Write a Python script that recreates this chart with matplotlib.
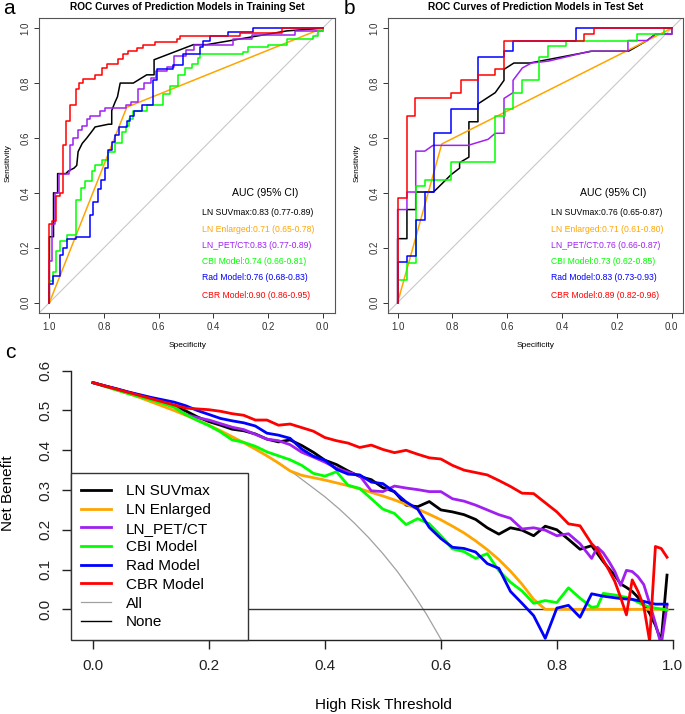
import numpy as np
import matplotlib
matplotlib.use('Agg')
import matplotlib.pyplot as plt
from matplotlib.lines import Line2D

plt.rcParams['font.family'] = ['Liberation Sans', 'DejaVu Sans']

# ---- models ----
models = ['LN SUVmax', 'LN Enlarged', 'LN_PET/CT', 'CBI Model', 'Rad Model', 'CBR Model']
colors = ['black', '#FFA500', '#A020F0', '#00FF00', '#0000FF', '#FF0000']
auc_train = ['0.83 (0.77-0.89)', '0.71 (0.65-0.78)', '0.83 (0.77-0.89)',
             '0.74 (0.66-0.81)', '0.76 (0.68-0.83)', '0.90 (0.86-0.95)']
auc_test = ['0.76 (0.65-0.87)', '0.71 (0.61-0.80)', '0.76 (0.66-0.87)',
            '0.73 (0.62-0.85)', '0.83 (0.73-0.93)', '0.89 (0.82-0.96)']

# ---- ROC, training set (specificity, sensitivity) ----
# step curves: specificity where sensitivity jumps, and the new sensitivity
tr_red_x = [1.0, 0.989, 0.976, 0.961, 0.951, 0.939, 0.924, 0.902, 0.890, 0.878, 0.833, 0.809,
            0.790, 0.748, 0.732, 0.711, 0.680, 0.656, 0.613, 0.534, 0.522, 0.302, 0.150, 0.0]
tr_red_y = [0.287, 0.299, 0.388, 0.400, 0.576, 0.661, 0.719, 0.780, 0.800, 0.814, 0.831, 0.855,
            0.868, 0.886, 0.906, 0.916, 0.928, 0.938, 0.950, 0.962, 0.971, 0.983, 1.0, 1.0]
tr_blue_x = [1.0, 0.988, 0.963, 0.951, 0.937, 0.902, 0.851, 0.839, 0.824, 0.812, 0.796, 0.784,
             0.772, 0.760, 0.744, 0.717, 0.705, 0.690, 0.660, 0.620, 0.607, 0.546, 0.510, 0.449,
             0.437, 0.412, 0.345, 0.254, 0.0]
tr_blue_y = [0.066, 0.097, 0.173, 0.200, 0.233, 0.240, 0.320, 0.365, 0.415, 0.445, 0.490, 0.555,
             0.585, 0.610, 0.640, 0.660, 0.680, 0.700, 0.720, 0.810, 0.850, 0.865, 0.906, 0.930,
             0.955, 0.970, 0.985, 1.0, 1.0]
tr_green_x = [1.0, 0.988, 0.976, 0.961, 0.937, 0.902, 0.885, 0.870, 0.845, 0.833, 0.809, 0.784,
              0.760, 0.735, 0.720, 0.707, 0.693, 0.644, 0.583, 0.559, 0.528, 0.504, 0.479, 0.455,
              0.449, 0.290, 0.272, 0.199, 0.132, 0.034, 0.016, 0.0]
tr_green_y = [0.078, 0.110, 0.187, 0.223, 0.248, 0.375, 0.418, 0.443, 0.480, 0.500, 0.520, 0.550,
              0.580, 0.620, 0.645, 0.670, 0.700, 0.720, 0.760, 0.790, 0.830, 0.855, 0.870, 0.890,
              0.905, 0.915, 0.930, 0.940, 0.960, 0.970, 0.990, 1.0]
tr_purple_x = [1.0, 0.99, 0.978, 0.965, 0.93, 0.925, 0.912, 0.897, 0.88, 0.862, 0.85, 0.815, 0.797,
               0.72, 0.70, 0.675, 0.655, 0.63, 0.61, 0.57, 0.545, 0.50, 0.47, 0.33, 0.26, 0.10, 0.0]
tr_purple_y = [0.153, 0.287, 0.40, 0.47, 0.48, 0.575, 0.60, 0.63, 0.645, 0.67, 0.68, 0.70, 0.71,
               0.72, 0.73, 0.78, 0.80, 0.82, 0.845, 0.86, 0.90, 0.92, 0.94, 0.96, 0.975, 0.99, 1.0]
# polylines
tr_black_x = [1.0, 1.0, 0.985, 0.985, 0.97, 0.97, 0.94, 0.93, 0.91, 0.90, 0.895, 0.88, 0.863, 0.84,
              0.833, 0.784, 0.772, 0.772, 0.76, 0.751, 0.741, 0.693, 0.644, 0.617, 0.617, 0.473,
              0.424, 0.132, 0.0]
tr_black_y = [0.0, 0.24, 0.24, 0.40, 0.40, 0.47, 0.47, 0.48, 0.49, 0.50, 0.55, 0.58, 0.60, 0.63,
              0.64, 0.65, 0.65, 0.70, 0.73, 0.75, 0.80, 0.80, 0.83, 0.83, 0.885, 0.94, 0.94, 0.99, 1.0]
tr_orange_x = [1.0, 0.717, 0.0]
tr_orange_y = [0.0, 0.712, 1.0]

# ---- ROC, test set ----
te_red_x = [1.0, 0.966, 0.936, 0.804, 0.770, 0.707, 0.644, 0.612, 0.319, 0.285, 0.0]
te_red_y = [0.382, 0.679, 0.745, 0.765, 0.810, 0.830, 0.850, 0.955, 0.980, 1.0, 1.0]
te_blue_x = [1.0, 0.966, 0.934, 0.901, 0.869, 0.804, 0.707, 0.612, 0.579, 0.350, 0.0]
te_blue_y = [0.147, 0.170, 0.300, 0.403, 0.618, 0.704, 0.894, 0.916, 0.955, 1.0, 1.0]
te_green_x = [1.0, 0.966, 0.934, 0.901, 0.804, 0.644, 0.609, 0.579, 0.545, 0.483, 0.450, 0.386,
              0.126, 0.030, 0.0]
te_green_y = [0.084, 0.145, 0.424, 0.447, 0.512, 0.679, 0.704, 0.765, 0.810, 0.894, 0.935, 0.955,
              0.978, 1.0, 1.0]
te_purple_x = [1.0, 1.0, 0.966, 0.966, 0.934, 0.934, 0.901, 0.871, 0.743, 0.670, 0.644, 0.612, 0.612,
               0.579, 0.579, 0.545, 0.512, 0.450, 0.298, 0.160, 0.160, 0.09, 0.06, 0.0, 0.0]
te_purple_y = [0.0, 0.339, 0.339, 0.403, 0.403, 0.552, 0.552, 0.573, 0.573, 0.595, 0.617, 0.617, 0.744,
               0.765, 0.81, 0.855, 0.873, 0.88, 0.916, 0.916, 0.955, 0.955, 0.978, 0.978, 1.0]
te_black_x = [1.0, 1.0, 0.966, 0.966, 0.934, 0.934, 0.869, 0.804, 0.774, 0.774, 0.740, 0.740, 0.707,
              0.707, 0.644, 0.612, 0.612, 0.576, 0.518, 0.292, 0.158, 0.09, 0.06, 0.0, 0.0]
te_black_y = [0.0, 0.233, 0.233, 0.339, 0.339, 0.403, 0.403, 0.467, 0.49, 0.51, 0.53, 0.659, 0.659,
              0.724, 0.765, 0.81, 0.85, 0.873, 0.873, 0.916, 0.916, 0.955, 0.978, 0.978, 1.0]
te_orange_x = [1.0, 0.839, 0.0]
te_orange_y = [0.0, 0.578, 1.0]

# ---- decision curves ----
thresholds = np.round(np.r_[np.arange(0, 0.87, 0.02), np.arange(0.87, 0.995, 0.01)], 2)
nb_black = [0.570, 0.562, 0.554, 0.546, 0.538, 0.529, 0.520, 0.510, 0.499, 0.484,
            0.472, 0.463, 0.453, 0.449, 0.441, 0.428, 0.421, 0.426, 0.412, 0.395,
            0.375, 0.364, 0.348, 0.334, 0.326, 0.306, 0.296, 0.262, 0.258, 0.271,
            0.250, 0.245, 0.238, 0.226, 0.205, 0.189, 0.205, 0.199, 0.185, 0.209,
            0.200, 0.176, 0.151, 0.160, 0.140, 0.120, 0.102, 0.085, 0.064, 0.055,
            0.045, 0.030, 0.012, -0.010, -0.040, -0.080, 0.086]
nb_orange = [0.570, 0.561, 0.552, 0.543, 0.533, 0.522, 0.511, 0.500, 0.488, 0.476,
             0.463, 0.449, 0.434, 0.419, 0.403, 0.386, 0.368, 0.348, 0.337, 0.331,
             0.325, 0.318, 0.311, 0.303, 0.294, 0.285, 0.275, 0.264, 0.252, 0.239,
             0.225, 0.209, 0.192, 0.172, 0.150, 0.125, 0.096, 0.063, 0.025, 0.0,
             0.0, 0.0, 0.0, 0.0, 0.0, 0.0, 0.0, 0.0, 0.0, 0.0,
             0.0, 0.0, 0.0, 0.0, 0.0, 0.0, 0.0]
nb_purple = [0.570, 0.562, 0.554, 0.546, 0.538, 0.529, 0.520, 0.510, 0.490, 0.482,
             0.476, 0.467, 0.458, 0.452, 0.440, 0.428, 0.424, 0.414, 0.395, 0.383,
             0.370, 0.355, 0.345, 0.336, 0.298, 0.296, 0.310, 0.305, 0.301, 0.296,
             0.296, 0.278, 0.272, 0.262, 0.250, 0.238, 0.229, 0.202, 0.205, 0.199,
             0.185, 0.190, 0.165, 0.128, 0.156, 0.142, 0.120, 0.095, 0.060, 0.098,
             0.095, 0.082, 0.062, 0.015, -0.035, -0.090, 0.010]
nb_green = [0.570, 0.561, 0.552, 0.543, 0.535, 0.527, 0.518, 0.508, 0.490, 0.475,
            0.462, 0.446, 0.426, 0.420, 0.410, 0.396, 0.386, 0.376, 0.362, 0.342,
            0.335, 0.346, 0.312, 0.304, 0.278, 0.252, 0.241, 0.213, 0.228, 0.215,
            0.185, 0.152, 0.145, 0.128, 0.140, 0.097, 0.068, 0.046, 0.015, 0.022,
            0.017, 0.054, 0.028, 0.005, 0.007, 0.040, 0.038, 0.036, 0.033, 0.030,
            0.025, 0.018, 0.010, 0.006, 0.003, 0.001, -0.002]
nb_blue = [0.570, 0.562, 0.555, 0.547, 0.540, 0.533, 0.527, 0.521, 0.512, 0.500,
           0.490, 0.480, 0.474, 0.469, 0.461, 0.443, 0.438, 0.430, 0.403, 0.385,
           0.375, 0.352, 0.340, 0.338, 0.320, 0.316, 0.295, 0.270, 0.252, 0.206,
           0.178, 0.156, 0.153, 0.144, 0.115, 0.103, 0.045, 0.015, -0.016, -0.073,
           0.003, 0.010, -0.020, 0.039, 0.036, 0.033, 0.031, 0.029, 0.027, 0.026,
           0.025, 0.022, 0.020, 0.016, 0.013, 0.013, 0.013]
nb_red = [0.570, 0.562, 0.554, 0.546, 0.538, 0.530, 0.522, 0.514, 0.506, 0.504,
          0.502, 0.498, 0.492, 0.488, 0.476, 0.476, 0.463, 0.466, 0.457, 0.448,
          0.432, 0.424, 0.418, 0.407, 0.413, 0.402, 0.394, 0.400, 0.390, 0.381,
          0.378, 0.362, 0.350, 0.344, 0.338, 0.324, 0.309, 0.292, 0.291, 0.268,
          0.245, 0.215, 0.210, 0.165, 0.150, 0.124, 0.098, 0.070, 0.030, -0.014,
          0.074, 0.045, 0.007, -0.080, 0.158, 0.153, 0.131]
all_t = [0, 0.05, 0.1, 0.15, 0.2, 0.25, 0.3, 0.35, 0.4, 0.425, 0.45, 0.475, 0.5, 0.525, 0.55,
         0.575, 0.6, 0.605]
all_nb = [0.570, 0.547, 0.522, 0.494, 0.463, 0.427, 0.386, 0.338, 0.283, 0.252, 0.218, 0.181,
          0.140, 0.095, 0.044, -0.012, -0.075, -0.089]


def stairs(xv, yv):
    xs, ys = [xv[0]], [0.0]
    for k in range(len(xv)):
        xs.append(xv[k]); ys.append(yv[k])
        if k + 1 < len(xv):
            xs.append(xv[k + 1]); ys.append(yv[k])
    return xs, ys


W, H = 685, 714
fig = plt.figure(figsize=(W / 100, H / 100), dpi=100)


def px(x, y):
    return x / W, 1 - y / H


def roc_panel(rect, xlim, curves, aucs, title, letter, lx, cx, tx):
    ax = fig.add_axes(rect)
    ax.plot([1.2, -0.2], [-0.2, 1.2], color='#c8c8c8', lw=0.8)
    for (x, y), c in zip(curves, colors):
        ax.plot(x, y, color=c, lw=1.1)
    ax.set_xlim(*xlim)
    ax.set_ylim(-0.039, 1.036)
    ax.set_xticks([1.0, 0.8, 0.6, 0.4, 0.2, 0.0])
    ax.set_xticklabels(['1.0', '0.8', '0.6', '0.4', '0.2', '0.0'])
    ax.set_yticks([0, 0.2, 0.4, 0.6, 0.8, 1.0])
    ax.set_yticklabels(['0.0', '0.2', '0.4', '0.6', '0.8', '1.0'], rotation=90, va='center')
    ax.tick_params(labelsize=7, length=3.5, width=0.7, pad=3, colors='#333333')
    for s in ax.spines.values():
        s.set_color('#555555')
        s.set_linewidth(0.8)
    cxa = (rect[0] + rect[2] / 2) * W
    fig.text(*px(cxa, 7), title, fontsize=7.3, fontweight='bold', ha='center', va='center')
    fig.text(*px(cxa, 345), 'Specificity', fontsize=6, ha='center', va='center')
    fig.text(*px(lx, 163), 'Sensitivity', fontsize=6, rotation=90, ha='center', va='center')
    fig.text(*px(letter[1], 9), letter[0], fontsize=15, ha='left', va='center')
    fig.text(*px(cx, 193), 'AUC (95% CI)', fontsize=7.6, ha='center', va='center')
    for i, (m, a) in enumerate(zip(models, aucs)):
        fig.text(*px(tx, [212, 229, 246, 262, 278, 295][i]), m + ':' + a,
                 fontsize=6.2, color=colors[i], ha='left', va='center')


train_curves = [(tr_black_x, tr_black_y), (tr_orange_x, tr_orange_y),
                stairs(tr_purple_x, tr_purple_y), stairs(tr_green_x, tr_green_y),
                stairs(tr_blue_x, tr_blue_y), stairs(tr_red_x, tr_red_y)]
test_curves = [(te_black_x, te_black_y), (te_orange_x, te_orange_y),
               (te_purple_x, te_purple_y), stairs(te_green_x, te_green_y),
               stairs(te_blue_x, te_blue_y), stairs(te_red_x, te_red_y)]

roc_panel([39.3 / W, 1 - 313.3 / H, 295.7 / W, 295 / H], (1.037, -0.045), train_curves, auc_train,
          'ROC Curves of Prediction Models in Training Set', ('a', 3), 8.5, 265, 201.7)
roc_panel([388.3 / W, 1 - 313.3 / H, 295 / W, 295 / H], (1.034, -0.042), test_curves, auc_test,
          'ROC Curves of Prediction Models in Test Set', ('b', 344), 357.5, 613, 550.7)

# ---- panel c: decision curves ----
axc = fig.add_axes([70.7 / W, 1 - 640 / H, (696 - 70.7) / W, 280 / H])
axc.plot(all_t, all_nb, color='#a0a0a0', lw=0.9)
axc.plot([0, 1], [0, 0], color='#333333', lw=1.0)
for nb, c in zip([nb_black, nb_orange, nb_purple, nb_green, nb_blue, nb_red], colors):
    axc.plot(thresholds, nb, color=c, lw=2.0)
axc.set_xlim(-0.0384, 1.04)
axc.set_ylim(-0.0772, 0.627)
axc.spines['top'].set_visible(False)
axc.spines['right'].set_visible(False)
axc.spines['left'].set_bounds(0, 0.6)
axc.spines['bottom'].set_bounds(0, 1)
for s in ['left', 'bottom']:
    axc.spines[s].set_linewidth(1.0)
    axc.spines[s].set_color('#222222')
axc.set_xticks([0, 0.2, 0.4, 0.6, 0.8, 1.0])
axc.set_xticklabels(['0.0', '0.2', '0.4', '0.6', '0.8', '1.0'])
axc.set_yticks([0, 0.1, 0.2, 0.3, 0.4, 0.5, 0.6])
axc.set_yticklabels(['0.0', '0.1', '0.2', '0.3', '0.4', '0.5', '0.6'], rotation=90, va='center')
axc.tick_params(labelsize=11, length=6.5, width=1.0, pad=7, colors='#222222')

handles = [Line2D([], [], color=c, lw=2.0) for c in colors]
handles += [Line2D([], [], color='#a0a0a0', lw=0.9), Line2D([], [], color='black', lw=1.0)]
labels = models + ['All', 'None']
leg = axc.legend(handles, labels, loc='lower left', bbox_to_anchor=(0, 0, 0.284, 0.5),
                 mode='expand', borderaxespad=0, fontsize=11, handlelength=1.95,
                 handletextpad=0.95, labelspacing=0.31, borderpad=0.7,
                 fancybox=False, framealpha=1, edgecolor='#333333')
leg.get_frame().set_linewidth(1.0)

fig.text(*px(8, 493), 'Net Benefit', fontsize=11, rotation=90, ha='center', va='center')
fig.text(*px(383, 705), 'High Risk Threshold', fontsize=11, ha='center', va='center')
fig.text(*px(5, 352), 'c', fontsize=15, ha='left', va='center')

fig.savefig('out.png', dpi=100)
